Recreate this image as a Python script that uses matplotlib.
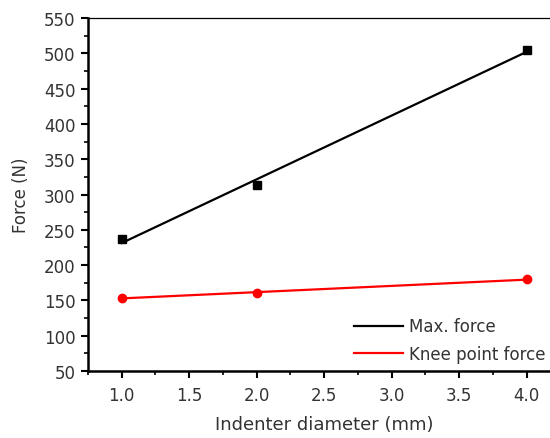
import numpy as np
import matplotlib.pyplot as plt
from matplotlib.ticker import MultipleLocator

plt.rcParams['font.family'] = ['DejaVu Sans']

diameter = [1.0, 2.0, 4.0]
max_force = [237, 313, 505]
knee_force = [154, 160, 180]

TEXT = "#333333"

fig = plt.figure(figsize=(5.5, 4.39), dpi=100)
ax = fig.add_axes([0.16, 0.1526, 0.859, 0.8041])

xs = np.array(diameter)
xfit = np.array([xs.min(), xs.max()])
for ys, color, marker, label in [(max_force, "black", "s", "Max. force"),
                                 (knee_force, "red", "o", "Knee point force")]:
    k, b = np.polyfit(xs, ys, 1)
    ax.plot(xfit, k * xfit + b, color=color, lw=1.6, label=label)
    ax.plot(xs, ys, marker, color=color, ms=6, ls="none")

ax.set_xlim(0.75, 4.25)
ax.set_ylim(50, 550)
ax.xaxis.set_major_locator(MultipleLocator(0.5))
ax.xaxis.set_minor_locator(MultipleLocator(0.25))
ax.yaxis.set_major_locator(MultipleLocator(50))
ax.yaxis.set_minor_locator(MultipleLocator(25))
ax.xaxis.set_major_formatter(plt.FormatStrFormatter("%.1f"))
ax.tick_params(which="both", direction="out", colors="black", labelcolor=TEXT,
               labelsize=12, top=False, right=False)
ax.tick_params(which="major", length=5, width=1.5, pad=4)
ax.tick_params(which="minor", length=3, width=1.2)
ax.tick_params(axis="x", pad=6)

for s in ["left", "bottom"]:
    ax.spines[s].set_linewidth(1.8)
ax.spines["top"].set_linewidth(0.9)
ax.spines["right"].set_visible(False)

ax.set_xlabel("Indenter diameter (mm)", fontsize=13, color=TEXT, labelpad=8)
ax.set_ylabel("Force (N)", fontsize=12, color=TEXT, labelpad=10)

leg = ax.legend(loc="center left", bbox_to_anchor=(0.564, 0.088), frameon=False,
                fontsize=12, handlelength=2.9, handletextpad=0.35,
                labelspacing=0.55, borderpad=0, borderaxespad=0)
for t in leg.get_texts():
    t.set_color(TEXT)

fig.savefig("out.png", dpi=100)
